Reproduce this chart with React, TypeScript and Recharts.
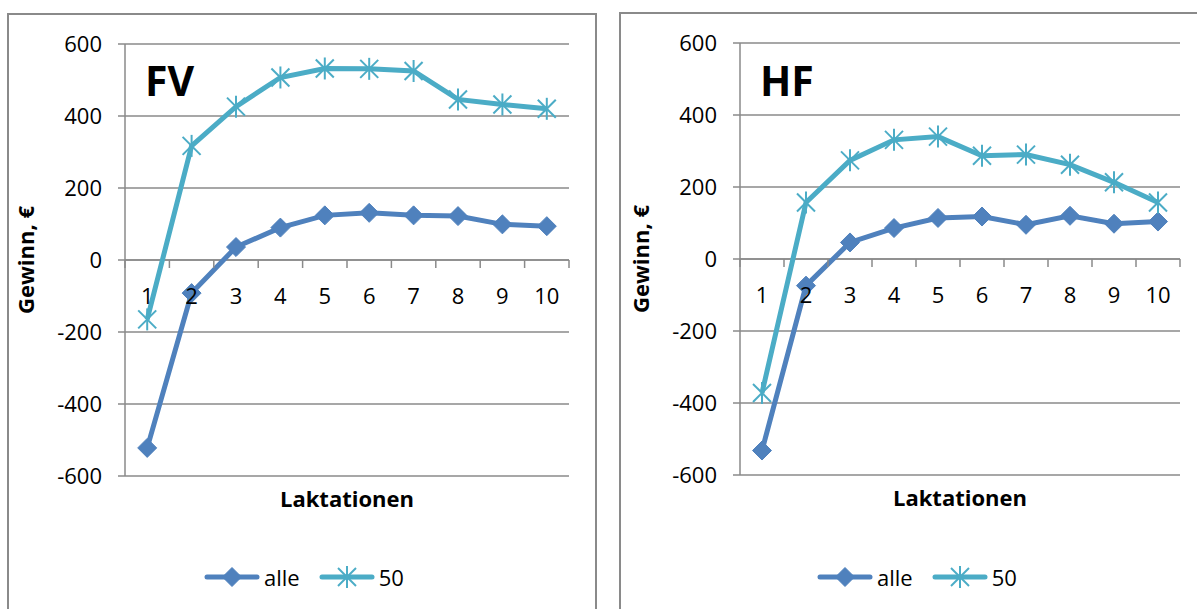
import { LineChart, Line, XAxis, YAxis, CartesianGrid, ReferenceLine, Legend } from 'recharts'

const lactations = [1, 2, 3, 4, 5, 6, 7, 8, 9, 10]
const fvAlle = [-522, -92, 36, 90, 124, 131, 124, 122, 99, 94]
const fv50 = [-165, 317, 426, 507, 532, 531, 525, 446, 432, 420]
const hfAlle = [-532, -74, 46, 86, 114, 118, 95, 120, 98, 104]
const hf50 = [-372, 157, 274, 331, 340, 287, 290, 262, 213, 157]
const yTicks = [-600, -400, -200, 0, 200, 400, 600]
const seriesNames = ['alle', '50']

// tick marks sit between categories, labels on the categories
const xTicks = [...lactations.flatMap((l) => [l - 0.5, l]), lactations[lactations.length - 1] + 0.5]

const BLUE = '#4f81bd'
const AQUA = '#4bacc6'
const GRID = '#8a8a8a'
const FONT = '"Open Sans", sans-serif'
const PLOT_H = 432

function DiamondDot(props: any) {
  const { cx, cy } = props
  if (cx == null || cy == null) return null
  const r = 9.5
  return <polygon points={`${cx},${cy - r} ${cx + r},${cy} ${cx},${cy + r} ${cx - r},${cy}`} fill={BLUE} stroke={BLUE} strokeWidth={1} />
}

function StarDot(props: any) {
  const { cx, cy } = props
  if (cx == null || cy == null) return null
  return (
    <g stroke={AQUA} strokeWidth={2}>
      <line x1={cx} y1={cy - 11} x2={cx} y2={cy + 11} />
      <line x1={cx - 9} y1={cy - 9} x2={cx + 9} y2={cy + 9} />
      <line x1={cx - 9} y1={cy + 9} x2={cx + 9} y2={cy - 9} />
    </g>
  )
}

function XTick(props: any) {
  const { x, y, payload } = props
  // axis sits at the bottom; draw ticks on the zero line instead
  const y0 = y - PLOT_H * (0 - yTicks[0]) / (yTicks[yTicks.length - 1] - yTicks[0])
  const v = payload.value
  if (!Number.isInteger(v)) {
    return <line x1={x} x2={x} y1={y0} y2={y0 + 8} stroke={GRID} strokeWidth={1.5} />
  }
  return (
    <text x={x} y={y0 + 35} textAnchor="middle" dominantBaseline="central" fontSize={22} fill="#000" fontFamily={FONT}>
      {v}
    </text>
  )
}

function LegendContent(props: any) {
  const payload = [...(props.payload ?? [])].sort(
    (a: any, b: any) => seriesNames.indexOf(a.value) - seriesNames.indexOf(b.value)
  )
  return (
    <div style={{ display: 'flex', alignItems: 'center', fontFamily: FONT, fontSize: 22, color: '#000' }}>
      {payload.map((entry: any, i: number) => (
        <div key={entry.value} style={{ display: 'flex', alignItems: 'center', marginRight: i === 0 ? 19 : 0 }}>
          <svg width={56} height={24}>
            <line x1={3} x2={53} y1={12} y2={12} stroke={entry.color} strokeWidth={5} strokeLinecap="round" />
            {entry.value === 'alle' ? <DiamondDot cx={28} cy={12} /> : <StarDot cx={28} cy={12} />}
          </svg>
          <span style={{ marginLeft: 4, lineHeight: '24px' }}>{entry.value}</span>
        </div>
      ))}
    </div>
  )
}

function YLabel(props: any) {
  const { viewBox } = props
  const cx = viewBox.x + 25
  const cy = viewBox.y + viewBox.height / 2
  return (
    <text x={cx} y={cy} transform={`rotate(-90, ${cx}, ${cy})`} textAnchor="middle" dominantBaseline="central" fontSize={22} fontWeight="bold" fill="#000" fontFamily={FONT}>
      Gewinn, €
    </text>
  )
}

function XLabel(props: any) {
  const { viewBox } = props
  return (
    <text x={viewBox.x + viewBox.width / 2} y={viewBox.y + 22} textAnchor="middle" dominantBaseline="central" fontSize={22} fontWeight="bold" fill="#000" fontFamily={FONT}>
      Laktationen
    </text>
  )
}

interface PanelProps {
  title: string
  alle: number[]
  fifty: number[]
  left: number
  width: number
  margin: { top: number; right: number; bottom: number; left: number }
  boxLeft: number
  boxTop: number
  legendLeft: number
}

function Panel({ title, alle, fifty, left, width, margin, boxLeft, boxTop, legendLeft }: PanelProps) {
  const data = lactations.map((l, i) => ({ lakt: l, alle: alle[i], fifty: fifty[i] }))
  return (
    <>
      <div style={{ position: 'absolute', left: boxLeft, top: boxTop, width: 586, height: 700, border: `2px solid ${GRID}` }} />
      <div style={{ position: 'absolute', left, top: 0, width, height: 609, fontFamily: FONT }}>
        <LineChart width={width} height={609} data={data} margin={margin}>
          <CartesianGrid vertical={false} stroke={GRID} strokeWidth={1.5} />
          <XAxis
            dataKey="lakt"
            type="number"
            domain={[0.5, 10.5]}
            ticks={xTicks}
            interval={0}
            height={1}
            axisLine={false}
            tickLine={false}
            tickSize={0}
            tickMargin={0}
            tick={<XTick />}
            label={<XLabel />}
          />
          <YAxis
            domain={[-600, 600]}
            ticks={yTicks}
            width={125}
            interval={0}
            axisLine={{ stroke: GRID, strokeWidth: 1.5 }}
            tickLine={{ stroke: GRID, strokeWidth: 1.5 }}
            tickSize={7}
            tickMargin={16}
            tick={{ fontSize: 22, fill: '#000', fontFamily: FONT }}
            label={<YLabel />}
          />
          <ReferenceLine y={0} stroke={GRID} strokeWidth={1.5} />
          <Legend
            layout="horizontal"
            verticalAlign="middle"
            align="center"
            wrapperStyle={{ top: 565, left: legendLeft - left, width: 'auto' }}
            content={<LegendContent />}
          />
          <Line type="linear" dataKey="alle" name={seriesNames[0]} stroke={BLUE} strokeWidth={5} dot={<DiamondDot />} activeDot={false} isAnimationActive={false} />
          <Line type="linear" dataKey="fifty" name={seriesNames[1]} stroke={AQUA} strokeWidth={5} dot={<StarDot />} activeDot={false} isAnimationActive={false} />
        </LineChart>
        <svg style={{ position: 'absolute', left: 0, top: 0, pointerEvents: 'none' }} width={width} height={609}>
          <text x={margin.left + 125 + 20} y={96} fontSize={41} fontWeight="bold" fill="#000" fontFamily={FONT}>
            {title}
          </text>
        </svg>
      </div>
    </>
  )
}

export default function App() {
  return (
    <div style={{ position: 'absolute', left: 0, top: 0, width: 1197, height: 609, overflow: 'hidden', background: '#fff' }}>
      <Panel
        title="FV"
        alle={fvAlle}
        fifty={fv50}
        left={0}
        width={600}
        margin={{ top: 44, right: 31, bottom: 132, left: 0 }}
        boxLeft={7}
        boxTop={13}
        legendLeft={204}
      />
      <Panel
        title="HF"
        alle={hfAlle}
        fifty={hf50}
        left={615}
        width={582}
        margin={{ top: 43, right: 17, bottom: 133, left: 0 }}
        boxLeft={619}
        boxTop={12}
        legendLeft={817}
      />
    </div>
  )
}
